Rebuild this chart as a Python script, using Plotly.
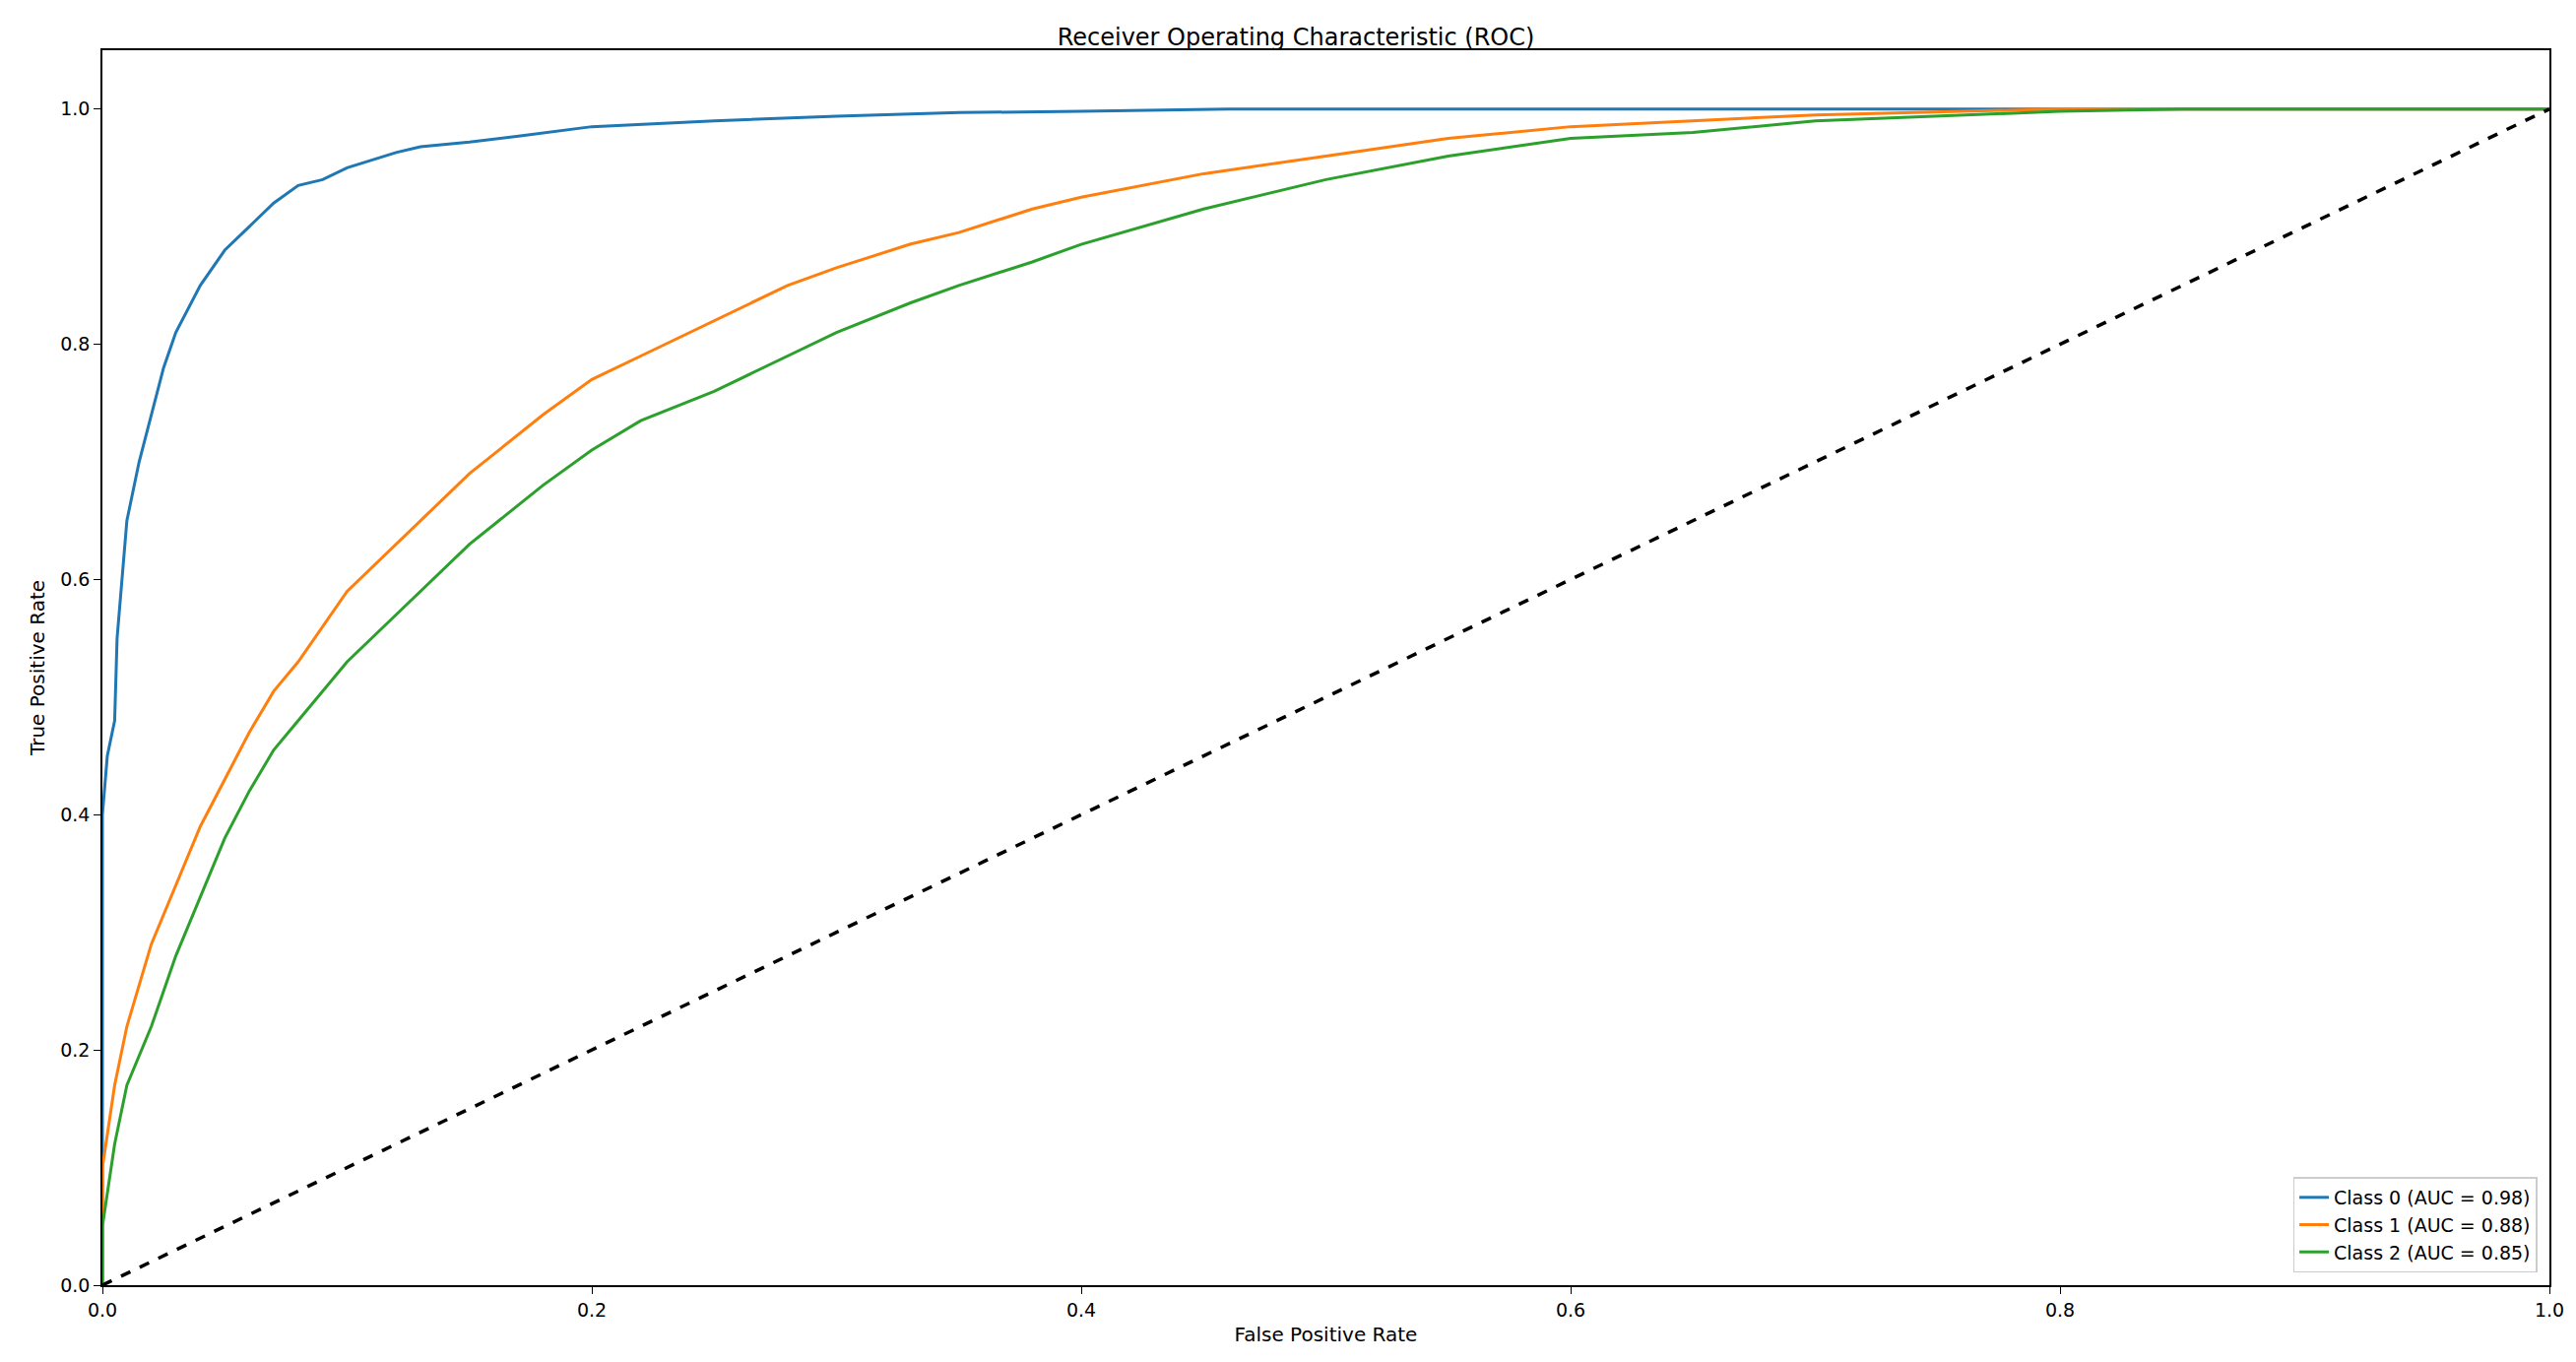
import plotly.graph_objects as go

c0_fpr = [0, 0, 0.002, 0.005, 0.006, 0.008, 0.01, 0.015, 0.02, 0.025, 0.03, 0.04, 0.05, 0.06, 0.07, 0.08, 0.09, 0.1, 0.12, 0.13, 0.15, 0.17, 0.2, 0.25, 0.3, 0.35, 0.4, 0.46, 1.0]
c0_tpr = [0, 0.4, 0.45, 0.48, 0.55, 0.6, 0.65, 0.7, 0.74, 0.78, 0.81, 0.85, 0.88, 0.9, 0.92, 0.935, 0.94, 0.95, 0.963, 0.968, 0.972, 0.977, 0.985, 0.99, 0.994, 0.997, 0.998, 1.0, 1.0]
c1_fpr = [0, 0, 0.005, 0.01, 0.02, 0.03, 0.04, 0.05, 0.06, 0.07, 0.08, 0.1, 0.12, 0.14, 0.15, 0.18, 0.2, 0.22, 0.25, 0.28, 0.3, 0.33, 0.35, 0.38, 0.4, 0.45, 0.5, 0.55, 0.6, 0.7, 0.8, 1.0]
c1_tpr = [0, 0.1, 0.17, 0.22, 0.29, 0.34, 0.39, 0.43, 0.47, 0.505, 0.53, 0.59, 0.63, 0.67, 0.69, 0.74, 0.77, 0.79, 0.82, 0.85, 0.865, 0.885, 0.895, 0.915, 0.925, 0.945, 0.96, 0.975, 0.985, 0.995, 1.0, 1.0]
c2_fpr = [0, 0, 0.005, 0.01, 0.02, 0.03, 0.04, 0.05, 0.06, 0.07, 0.08, 0.1, 0.12, 0.14, 0.15, 0.18, 0.2, 0.22, 0.25, 0.28, 0.3, 0.33, 0.35, 0.38, 0.4, 0.45, 0.5, 0.55, 0.6, 0.65, 0.7, 0.8, 0.85, 1.0]
c2_tpr = [0, 0.05, 0.12, 0.17, 0.22, 0.28, 0.33, 0.38, 0.42, 0.455, 0.48, 0.53, 0.57, 0.61, 0.63, 0.68, 0.71, 0.735, 0.76, 0.79, 0.81, 0.835, 0.85, 0.87, 0.885, 0.915, 0.94, 0.96, 0.975, 0.98, 0.99, 0.998, 1.0, 1.0]
names = ["Class 0 (AUC = 0.98)", "Class 1 (AUC = 0.88)", "Class 2 (AUC = 0.85)"]
colors = ["#1f77b4", "#ff7f0e", "#2ca02c"]
diag = [0, 1]

fig = go.Figure()
for fx, ty, n, c in zip([c0_fpr, c1_fpr, c2_fpr], [c0_tpr, c1_tpr, c2_tpr], names, colors):
    fig.add_trace(go.Scatter(x=fx, y=ty, mode="lines", name=n, line=dict(color=c, width=3)))
fig.add_trace(go.Scatter(x=diag, y=diag, mode="lines", showlegend=False,
                         line=dict(color="black", width=3.5, dash="dash")))

ax = dict(showline=True, linecolor="black", linewidth=1.5, mirror=True, ticks="outside",
          ticklen=7, tickcolor="black", showgrid=False, zeroline=False, tickformat=".1f",
          tickfont=dict(size=19, color="black"), title_font=dict(size=20, color="black"))
fig.update_layout(
    width=2616, height=1383, plot_bgcolor="white", paper_bgcolor="white",
    font=dict(family="DejaVu Sans", color="black"),
    title=dict(text="Receiver Operating Characteristic (ROC)", x=0.5, xanchor="center",
               y=0.985, font=dict(size=24)),
    margin=dict(l=96, r=35, t=43, b=86),
    xaxis=dict(range=[0, 1], dtick=0.2, title=dict(text="False Positive Rate", standoff=8), **ax),
    yaxis=dict(range=[0, 1.05], dtick=0.2, title=dict(text="True Positive Rate", standoff=10), **ax),
    legend=dict(x=0.995, y=0.01, xanchor="right", yanchor="bottom", bordercolor="#cccccc",
                borderwidth=1.5, font=dict(size=19), bgcolor="rgba(255,255,255,0.8)"),
)
fig.write_html("out.html")
